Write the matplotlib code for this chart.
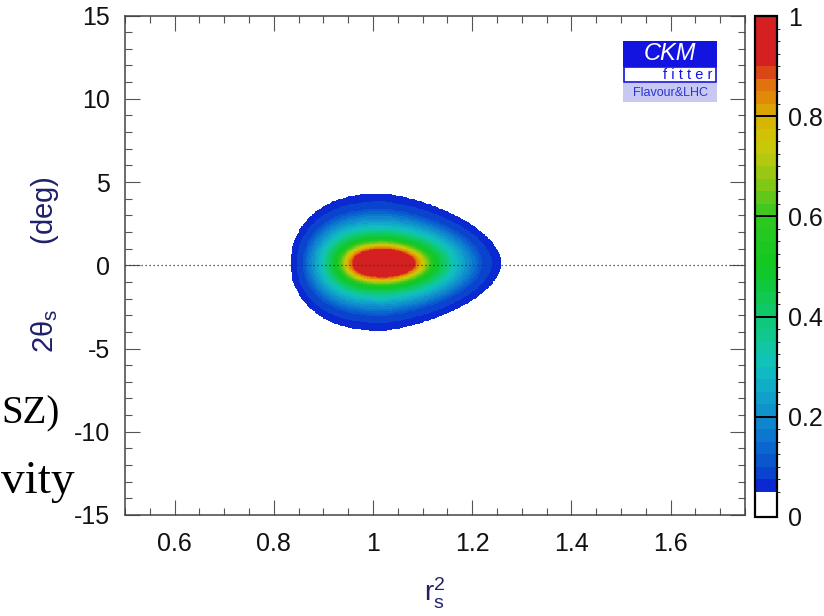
import numpy as np
import matplotlib
matplotlib.use("Agg")
import matplotlib.pyplot as plt
from matplotlib.colors import LinearSegmentedColormap, ListedColormap, BoundaryNorm
from matplotlib.patches import Rectangle

# p-value (1 - CL) read along the r_s^2 axis, vs normalised distance from best fit
rho_profile = [0.0, 0.15, 0.26, 0.33, 0.44, 0.61, 0.84, 1.0, 1.02]
pval_profile = [1.0, 0.97, 0.9, 0.75, 0.5, 0.3, 0.1, 0.05, 0.0]

# best fit point and half-extent of the 5% region
r2_best = 1.023
theta_best = 0.1
r2_halfwidth = [0.19, 0.235]      # left, right
theta_halfwidth = [4.05, 4.2]     # down, up
inner_flattening = 0.35           # inner contours are flatter than the 5% one
right_taper = 0.22                # egg shape: narrower towards large r_s^2

x_ticks = [0.6, 0.8, 1.0, 1.2, 1.4, 1.6]
x_ticklabels = ["0.6", "0.8", "1", "1.2", "1.4", "1.6"]
y_ticks = [-15, -10, -5, 0, 5, 10, 15]
cb_ticks = [0, 0.2, 0.4, 0.6, 0.8, 1.0]
cb_ticklabels = ["0", "0.2", "0.4", "0.6", "0.8", "1"]

# CKMfitter-like palette
pal_values = [0.05, 0.1, 0.15, 0.2, 0.25, 0.3, 0.35, 0.4, 0.5, 0.6, 0.65, 0.7,
              0.75, 0.8, 0.84, 0.88, 0.9, 1.0]
pal_colors = ['#0a1ed2', '#0a50cc', '#0a70d0', '#108ccc', '#10a8c8', '#10c0c0',
              '#10c898', '#10c870', '#10c820', '#30c820', '#70c818', '#a8c810',
              '#d0c808', '#d8b000', '#e08a08', '#e06010', '#d42020', '#d42020']

levels = [0.0, 0.05] + [round(0.075 + 0.025 * i, 3) for i in range(38)]
levels = [l for l in levels if l <= 1.0]

cmap = LinearSegmentedColormap.from_list(
    "ckm", [((v - 0.05) / 0.95, c) for v, c in zip(pal_values, pal_colors)])
band_colors = ["white"] + [cmap((0.5 * (lo + hi) - 0.05) / 0.95)
                           for lo, hi in zip(levels[1:-1], levels[2:])]
band_cmap = ListedColormap(band_colors)
band_norm = BoundaryNorm(levels, len(band_colors))

# field
xg = np.linspace(0.5, 1.75, 700)
yg = np.linspace(-15, 15, 700)
X, Y = np.meshgrid(xg, yg)
u = np.where(X < r2_best, (r2_best - X) / r2_halfwidth[0], (X - r2_best) / r2_halfwidth[1])
v = np.where(Y < theta_best, (theta_best - Y) / theta_halfwidth[0], (Y - theta_best) / theta_halfwidth[1])
taper = np.where(X > r2_best, 1 - right_taper * np.clip(u, 0, 1.5), 1.0)
v = v / taper
ux = np.where(X < r2_best, u ** 2.5, u ** 2)
rho0 = np.sqrt(ux + v ** 2)
v = v * (1 + inner_flattening * np.clip(1 - rho0, 0, 1))
rho = np.sqrt(ux + v ** 2)
P = np.interp(rho, rho_profile, pval_profile)
P = np.clip(P, 0, 0.9999)

plt.rcParams["font.family"] = ["Liberation Sans", "DejaVu Sans"]
plt.rcParams["mathtext.fontset"] = "custom"
plt.rcParams["mathtext.rm"] = "Liberation Sans"
plt.rcParams["mathtext.it"] = "Liberation Sans:italic"
plt.rcParams["axes.unicode_minus"] = False

W, H = 824, 616
fig = plt.figure(figsize=(W / 100, H / 100), dpi=100)


def fx(px):
    return px / W


def fy(py):
    return 1 - py / H


ax = fig.add_axes([fx(125), fy(515), fx(745) - fx(125), fy(15.5) - fy(515)])
im = ax.imshow(P, extent=[0.5, 1.75, -15, 15], origin="lower", aspect="auto",
               cmap=band_cmap, norm=band_norm, interpolation="nearest")
ax.axhline(0, color="#333333", lw=0.9, ls=(0, (1, 2.2)))
ax.set_xlim(0.5, 1.75)
ax.set_ylim(-15, 15)
ax.set_xticks(x_ticks)
ax.set_xticklabels(x_ticklabels)
ax.set_yticks(y_ticks)
ax.set_xticks(np.arange(0.5, 1.751, 0.05), minor=True)
ax.set_yticks(np.arange(-15, 15.1, 1), minor=True)
ax.tick_params(which="both", direction="in", top=True, right=True,
               color="#555555", width=0.8, labelsize=18, labelcolor="#111111")
ax.tick_params(which="major", length=10.5)
ax.tick_params(which="minor", length=5)
ax.tick_params(axis="x", pad=12)
ax.tick_params(axis="y", pad=11)
for s in ax.spines.values():
    s.set_color("#444444")
    s.set_linewidth(1.1)

fig.text(fx(435), fy(593), r"r$_\mathrm{s}^\mathrm{2}$", color="#1f1f6b",
         fontsize=20, ha="center", va="center")
fig.text(fx(45), fy(265), r"2θ$_\mathrm{s}$        (deg)", color="#1f1f6b",
         fontsize=21, ha="center", va="center", rotation=90)

# colour bar
cax = fig.add_axes([fx(755), fy(517), fx(777) - fx(755), fy(16) - fy(517)])
cb = fig.colorbar(im, cax=cax, spacing="proportional", ticks=cb_ticks)
cb.ax.set_yticklabels(cb_ticklabels)
cb.ax.tick_params(length=0, labelsize=18, pad=8, labelcolor="#111111")
cb.outline.set_linewidth(1.6)
for t in cb_ticks[1:-1]:
    cax.axhline(t, color="black", lw=1.4)

# logo
logo_blue = "#1414e0"
fig.add_artist(Rectangle((fx(622.7), fy(67)), fx(94), fy(40.7) - fy(67),
                         transform=fig.transFigure, facecolor=logo_blue, edgecolor="none"))
fig.add_artist(Rectangle((fx(623.5), fy(82)), fx(92.5), fy(67) - fy(82),
                         transform=fig.transFigure, facecolor="white",
                         edgecolor=logo_blue, lw=1.2))
fig.add_artist(Rectangle((fx(622.7), fy(101.5)), fx(94), fy(83.5) - fy(101.5),
                         transform=fig.transFigure, facecolor="#c8c8f4", edgecolor="none"))
fig.text(fx(670), fy(54), "CKM", color="white", fontsize=17, style="italic",
         ha="center", va="center")
fig.text(fx(712), fy(75), "f i t t e r", color=logo_blue, fontsize=10.5,
         ha="right", va="center")
fig.text(fx(670), fy(92.5), "Flavour&LHC", color="#2a36c8", fontsize=9,
         ha="center", va="center")

# remnants of slide text at the left edge
fig.text(fx(1), fy(423), "SZ)", family="Liberation Serif", fontsize=28,
         ha="left", va="baseline", color="black")
fig.text(fx(1), fy(493), "vity", family="Liberation Serif", fontsize=34,
         ha="left", va="baseline", color="black")

fig.savefig("out.png", dpi=100)
